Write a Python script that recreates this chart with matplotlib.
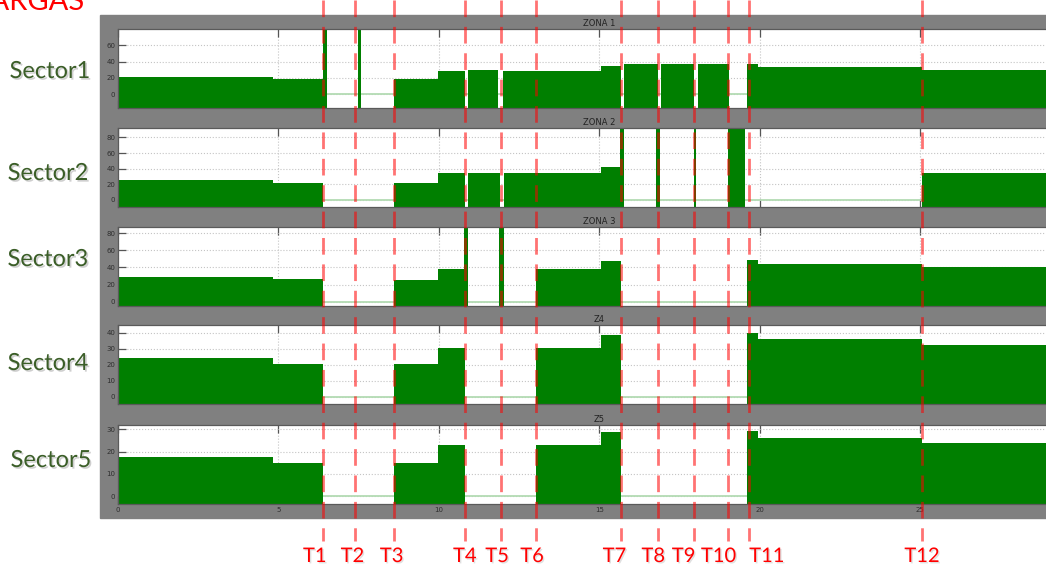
import matplotlib
matplotlib.use('Agg')
import matplotlib.pyplot as plt
import matplotlib.patheffects as pe
from matplotlib.patches import Rectangle
import numpy as np

# step data: segment start times (last entry = end) and load per segment (0 = off)
s1_x = [0, 4.84, 6.38, 6.50, 7.47, 7.57, 8.59, 9.97, 10.81, 10.91, 11.85, 12.00, 15.06,
        15.69, 15.78, 16.84, 16.94, 17.97, 18.09, 19.06, 19.60, 19.94, 25.06, 30]
s1_y = [21.2, 18.4, 95, 0, 95, 0, 18.4, 28.2, 0, 29.4, 0, 28.2, 34.7,
        0, 36.8, 0, 36.8, 0, 36.8, 0, 37.6, 33.5, 29.4]

s2_x = [0, 4.84, 6.38, 8.59, 9.97, 10.81, 10.91, 11.90, 12.03, 15.06, 15.66, 15.78,
        16.78, 16.90, 17.94, 18.03, 19.03, 19.53, 25.06, 30]
s2_y = [25.6, 21.4, 0, 21.4, 34.0, 0, 34.0, 0, 34.0, 42.0, 95, 0,
        95, 0, 95, 0, 91, 0, 35.0]

s3_x = [0, 4.84, 6.38, 8.59, 9.97, 10.77, 10.90, 11.88, 12.03, 13.03, 15.06, 15.69,
        19.60, 19.94, 25.06, 30]
s3_y = [29.3, 26.0, 0, 25.5, 38.6, 95, 0, 95, 0, 37.9, 47.6, 0,
        48.8, 44.0, 40.2]

s4_x = [0, 4.84, 6.38, 8.59, 9.97, 10.81, 13.03, 15.06, 15.69, 19.60, 19.94, 25.06, 30]
s4_y = [24.0, 20.4, 0, 20.4, 30.6, 0, 30.6, 38.6, 0, 39.6, 35.9, 32.3]

s5_x = [0, 4.84, 6.38, 8.59, 9.97, 10.81, 13.03, 15.06, 15.69, 19.60, 19.94, 25.06, 30]
s5_y = [17.7, 14.7, 0, 14.7, 23.0, 0, 23.0, 28.7, 0, 29.4, 26.3, 24.0]

titles = ['ZONA 1', 'ZONA 2', 'ZONA 3', 'Z4', 'Z5']
sectors = ['Sector1', 'Sector2', 'Sector3', 'Sector4', 'Sector5']
ylims = [(-17, 80), (-9, 92), (-5, 87), (-4.6, 44.8), (-3.6, 32)]
yticks = [[0, 20, 40, 60], [0, 20, 40, 60, 80], [0, 20, 40, 60, 80],
          [0, 10, 20, 30, 40], [0, 10, 20, 30]]

events = [6.38, 7.40, 8.59, 10.81, 11.94, 13.03, 15.69, 16.84, 17.97, 19.03, 19.66, 25.06]
event_labels = ['T1', 'T2', 'T3', 'T4', 'T5', 'T6', 'T7', 'T8', 'T9', 'T10', 'T11', 'T12']

W, H = 1046, 567
PX = 32.08  # pixels per time unit
strips = [(29, 108), (128, 207), (227, 306), (325, 404), (425, 504)]
label_dx = [-8, -3, -2, 0, -4, -4, -7, -5, -11, -10, 18, 0]
sector_base = [78, 180, 266, 370, 467]
sector_cx = [50, 48, 48, 48, 51]
narrow = ['Lato', 'DejaVu Sans']

fig = plt.figure(figsize=(W / 100, H / 100), dpi=100)
fig.patches.append(Rectangle((100 / W, 1 - 518 / H), 1, (518 - 15) / H,
                             transform=fig.transFigure, color='#808080', zorder=-5))

series = [(s1_x, s1_y), (s2_x, s2_y), (s3_x, s3_y), (s4_x, s4_y), (s5_x, s5_y)]
for i, ((sx, sy), (top, bot)) in enumerate(zip(series, strips)):
    ax = fig.add_axes([118 / W, 1 - bot / H, 30 * PX / W, (bot - top) / H])
    ax.set_facecolor('white')
    x = np.array(sx, dtype=float)
    y = np.array(sy, dtype=float)
    lo = ylims[i][0]
    yf = np.where(y > 0, y, lo)
    ax.fill_between(x, lo, np.append(yf, yf[-1]), step='post', color='#007f00', lw=0)
    off = y == 0
    ax.hlines(np.zeros(off.sum()), x[:-1][off], x[1:][off], color='#b3dbb3', lw=1.3)
    ax.set_xlim(0, 30)
    ax.set_ylim(*ylims[i])
    ax.set_yticks(yticks[i])
    ax.set_xticks(range(0, 30, 5))
    ax.set_axisbelow(True)
    ax.grid(True, linestyle=':', color='#c4c4c4', lw=0.8)
    ax.tick_params(direction='in', length=6, width=0.9, color='#555555',
                   labelsize=5, labelcolor='#2e2e2e', top=True, pad=2,
                   labelbottom=(i == 4))
    for sp in ax.spines.values():
        sp.set_color('#5a5a5a')
        sp.set_linewidth(0.9)
    ax.set_title(titles[i], fontsize=6, color='#222222', pad=2.5)
    fig.text(sector_cx[i] / W, 1 - sector_base[i] / H, sectors[i], family=narrow,
             fontsize=17, color='#3b5e28', ha='center', va='baseline',
             path_effects=[pe.withSimplePatchShadow(offset=(1.2, -1.2),
                                                    shadow_rgbFace='#888888', alpha=0.4)])

# overlay for the event markers, same time scale as the strips
ov = fig.add_axes([0, 0, 1, 1], zorder=20)
ov.set_xlim(-118 / PX, (W - 118) / PX)
ov.set_ylim(H, 0)
ov.axis('off')
ov.patch.set_alpha(0)
ov.vlines(events, 0, 541, colors='red', alpha=0.55, lw=2, linestyles=(0, (6, 3.5)))
for t, lab, dx in zip(events, event_labels, label_dx):
    ov.text(t + dx / PX, 562, lab, family=narrow, fontsize=14.5, color='red',
            ha='center', va='baseline',
            path_effects=[pe.withSimplePatchShadow(offset=(1, -1),
                                                   shadow_rgbFace='#999999', alpha=0.3)])

# page heading, partly cut by the top edge as in the source image
fig.text(85 / W, 1 - 10 / H, 'CARGAS', family=narrow, fontsize=21, color='red',
         ha='right', va='baseline')

fig.savefig('out.png', dpi=100)
